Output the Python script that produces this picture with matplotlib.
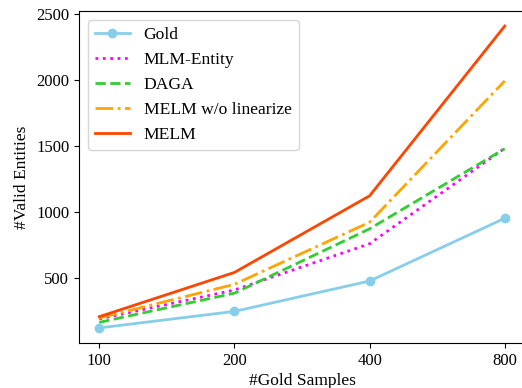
import matplotlib
matplotlib.use("Agg")
import matplotlib.pyplot as plt

plt.rcParams['font.family'] = ['Liberation Serif', 'DejaVu Serif']
plt.rcParams['font.size'] = 12

samples = ['100', '200', '400', '800']
gold = [125, 250, 480, 955]
mlm_entity = [193, 412, 762, 1485]
daga = [167, 388, 875, 1482]
melm_wo = [200, 455, 925, 1995]
melm = [210, 545, 1125, 2410]

x = range(len(samples))

fig = plt.figure(figsize=(5.22, 3.88), dpi=100)
ax = fig.add_axes([79/522, 1-343/388, 446/522, 332/388])

ax.plot(x, gold, color='skyblue', lw=2, marker='o', ms=6, label='Gold')
ax.plot(x, mlm_entity, color='magenta', lw=2, ls=':', label='MLM-Entity')
ax.plot(x, daga, color='limegreen', lw=2, ls='--', label='DAGA')
ax.plot(x, melm_wo, color='orange', lw=2, ls='-.', label='MELM w/o linearize')
ax.plot(x, melm, color='orangered', lw=2, label='MELM')

ax.set_xticks(list(x))
ax.set_xticklabels(samples)
ax.set_yticks([500, 1000, 1500, 2000, 2500])
ax.set_xlabel('#Gold Samples', fontsize=12.5, labelpad=3)
ax.set_ylabel('#Valid Entities', fontsize=12.5)
ax.legend(loc='upper left', fontsize=12.6)

fig.savefig('out.png', dpi=100)
